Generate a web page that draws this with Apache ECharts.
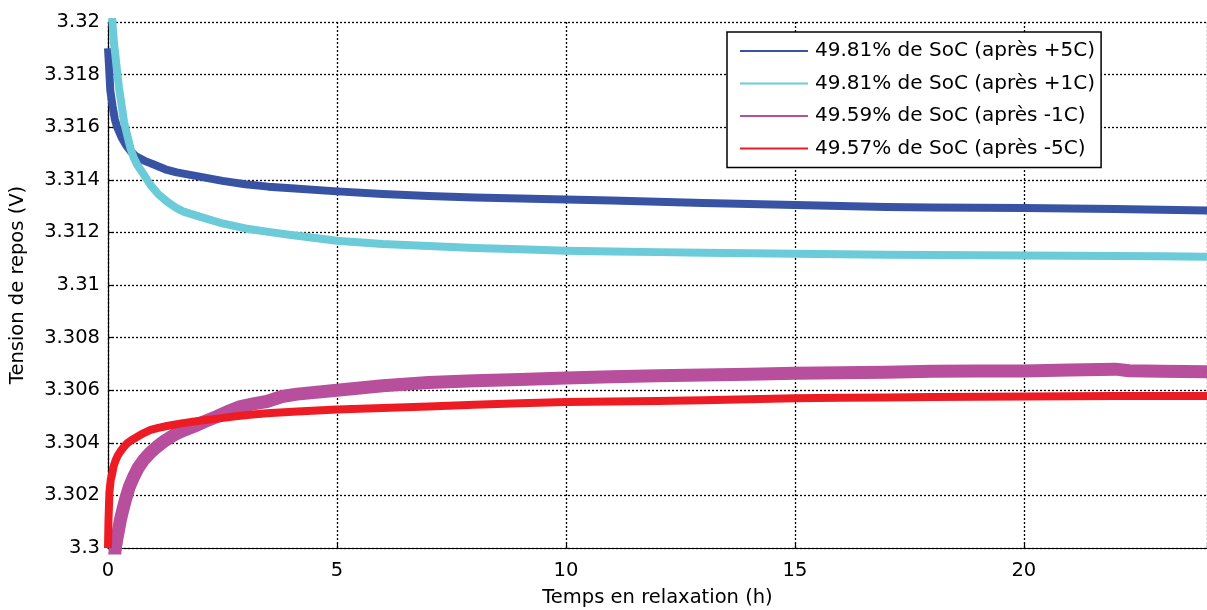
<!DOCTYPE html>
<html>
<head>
<meta charset="utf-8">
<script src="https://cdn.jsdelivr.net/npm/echarts@6/dist/echarts.min.js"></script>
<style>
html,body{margin:0;padding:0;background:#fff;overflow:hidden;}
#chart{width:1207px;height:610px;}
</style>
</head>
<body>
<div id="chart"></div>
<script>
// Series names (legend)
const seriesNames = [
  '49.81% de SoC (après +5C)',
  '49.81% de SoC (après +1C)',
  '49.59% de SoC (après -1C)',
  '49.57% de SoC (après -5C)'
];

// Blue: 49.81% SoC after +5C  (time in h, voltage in V)
const tBlue = [0, 0.02, 0.05, 0.1, 0.15, 0.2, 0.3, 0.4, 0.5, 0.6, 0.8, 1.0, 1.25, 1.5, 2, 2.5, 3, 3.5, 4, 5, 6, 7, 8, 9, 10, 11, 12, 13, 14, 15, 16, 17, 18, 19, 20, 21, 22, 23, 24];
const vBlue = [3.3190, 3.3184, 3.3174, 3.3168, 3.3163, 3.3160, 3.3156, 3.3153, 3.31508, 3.3149, 3.31472, 3.31458, 3.31440, 3.31428, 3.31412, 3.31396, 3.31383, 3.31374, 3.31368, 3.31356, 3.31346, 3.31338, 3.31333, 3.31329, 3.31325, 3.31321, 3.31317, 3.31312, 3.31308, 3.31304, 3.31300, 3.31297, 3.31295, 3.31294, 3.31293, 3.31291, 3.31289, 3.31286, 3.31283];

// Cyan: 49.81% SoC after +1C
const tCyan = [0.08, 0.1, 0.13, 0.16, 0.2, 0.24, 0.3, 0.35, 0.42, 0.49, 0.56, 0.64, 0.8, 0.93, 1.1, 1.29, 1.5, 1.65, 2.0, 2.5, 3.0, 3.5, 4.0, 5, 6, 7, 8, 9, 10, 11, 12, 13, 14, 15, 16, 17, 18, 19, 20, 21, 22, 23, 24];
const vCyan = [3.3205, 3.3199, 3.3192, 3.31875, 3.3181, 3.3175, 3.3168, 3.3162, 3.3157, 3.3152, 3.31485, 3.31456, 3.31415, 3.3138, 3.31345, 3.31317, 3.31292, 3.31279, 3.3126, 3.31234, 3.31215, 3.31202, 3.3119, 3.31168, 3.31156, 3.31148, 3.31141, 3.31136, 3.31130, 3.31127, 3.31125, 3.31123, 3.31121, 3.31119, 3.31117, 3.31115, 3.31114, 3.31113, 3.31112, 3.31111, 3.3111, 3.31109, 3.31107];

// Purple: 49.59% SoC after -1C
const tPurple = [0.14, 0.16, 0.2, 0.27, 0.33, 0.38, 0.46, 0.56, 0.66, 0.78, 0.92, 1.07, 1.25, 1.44, 1.65, 1.87, 2.1, 2.38, 2.6, 2.89, 3.2, 3.47, 3.8, 4.13, 5, 6, 7, 8, 9, 10, 11, 12, 13, 14, 15, 16, 17, 18, 19, 20, 21, 22, 22.3, 23, 24];
const vPurple = [3.2996, 3.3000, 3.3004, 3.30106, 3.3015, 3.30183, 3.3023, 3.30271, 3.30305, 3.30335, 3.30362, 3.30385, 3.30409, 3.3043, 3.30447, 3.30462, 3.3048, 3.305, 3.30518, 3.30538, 3.30549, 3.30557, 3.30576, 3.30585, 3.306, 3.30617, 3.30629, 3.30636, 3.30641, 3.30646, 3.30651, 3.30655, 3.30658, 3.30661, 3.30664, 3.30666, 3.30668, 3.30672, 3.30673, 3.30673, 3.30677, 3.30680, 3.30674, 3.30672, 3.3067];

// Red: 49.57% SoC after -5C
const tRed = [0, 0.01, 0.03, 0.06, 0.09, 0.12, 0.16, 0.21, 0.27, 0.34, 0.42, 0.52, 0.64, 0.78, 0.93, 1.1, 1.29, 1.6, 2.0, 2.4, 2.74, 3.1, 3.47, 4.13, 5, 6, 7, 8, 9, 10, 11, 12, 13, 14, 15, 16, 17, 18, 19, 20, 21, 22, 23, 24];
const vRed = [3.3000, 3.3010, 3.3021, 3.3026, 3.30280, 3.3031, 3.30330, 3.3035, 3.30367, 3.30383, 3.30398, 3.30411, 3.30423, 3.30437, 3.30449, 3.30457, 3.30464, 3.30474, 3.30484, 3.30492, 3.305, 3.30507, 3.30512, 3.30519, 3.30527, 3.30532, 3.30538, 3.30545, 3.3055, 3.30555, 3.30557, 3.30559, 3.30562, 3.30566, 3.30569, 3.30571, 3.30572, 3.30574, 3.30575, 3.30576, 3.30577, 3.30578, 3.30578, 3.30578];

// Axis tick values
const xTicks = [0, 5, 10, 15, 20];
const yTickLabels = ['3.3', '3.302', '3.304', '3.306', '3.308', '3.31', '3.312', '3.314', '3.316', '3.318', '3.32'];

const zip = (t, v) => t.map((x, i) => [x, v[i]]);
const FONT = 'DejaVu Sans';
const colors = ['#3953a4', '#6bcbd9', '#b74f9d', '#ed1c24'];
const widths = [8, 8, 13, 8];
const datasets = [zip(tBlue, vBlue), zip(tCyan, vCyan), zip(tPurple, vPurple), zip(tRed, vRed)];

const chart = echarts.init(document.getElementById('chart'), null, {renderer: 'canvas'});
chart.setOption({
  animation: false,
  backgroundColor: '#fff',
  grid: {left: 108, top: 22, width: 1099, height: 526, containLabel: false, outerBoundsMode: 'none'},
  legend: {
    orient: 'vertical',
    left: 727,
    top: 32,
    padding: [8, 6, 8, 13],
    icon: 'rect',
    itemWidth: 68,
    itemHeight: 2,
    itemGap: 10.5,
    backgroundColor: '#fff',
    borderColor: '#000',
    borderWidth: 1.5,
    borderRadius: 0,
    selectedMode: false,
    textStyle: {fontFamily: FONT, fontSize: 20, lineHeight: 22, color: '#000', padding: [0, 0, 0, 2]},
    data: seriesNames
  },
  xAxis: {
    type: 'value',
    min: 0, max: 24, interval: 5,
    name: 'Temps en relaxation (h)',
    nameLocation: 'middle',
    nameGap: 40,
    nameTextStyle: {fontFamily: FONT, fontSize: 19.5, color: '#000'},
    axisLine: {show: true, onZero: false, lineStyle: {color: '#000', width: 1.2}},
    axisTick: {show: true, inside: true, length: 5, lineStyle: {color: '#000', width: 1.2}},
    axisLabel: {
      fontFamily: FONT, fontSize: 19.5, color: '#000', margin: 13,
      formatter: v => xTicks.includes(v) ? String(v) : ''
    },
    splitLine: {show: true, lineStyle: {color: '#000', width: 1.3, type: [2, 2]}}
  },
  yAxis: {
    type: 'value',
    min: 3.3, max: 3.32, interval: 0.002,
    name: 'Tension de repos (V)',
    nameLocation: 'middle',
    nameGap: 80,
    nameTextStyle: {fontFamily: FONT, fontSize: 19.5, color: '#000'},
    axisLine: {show: true, onZero: false, lineStyle: {color: '#000', width: 1.2}},
    axisTick: {show: true, inside: true, length: 5, lineStyle: {color: '#000', width: 1.2}},
    axisLabel: {
      fontFamily: FONT, fontSize: 19.5, color: '#000', margin: 8,
      formatter: v => {
        const idx = Math.round((v - 3.3) / 0.002);
        return yTickLabels[idx] !== undefined ? yTickLabels[idx] : '';
      }
    },
    splitLine: {show: true, lineStyle: {color: '#000', width: 1.3, type: [2, 2]}}
  },
  series: seriesNames.map((name, i) => ({
    name: name,
    type: 'line',
    data: datasets[i],
    symbol: 'none',
    showSymbol: false,
    clip: true,
    smooth: false,
    color: colors[i],
    lineStyle: {color: colors[i], width: widths[i], join: 'round', cap: 'butt'},
    z: 2 + i
  }))
});
</script>
</body>
</html>
